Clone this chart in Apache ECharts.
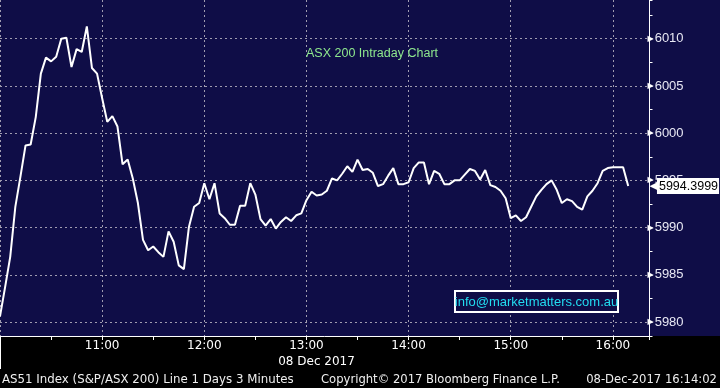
<!DOCTYPE html>
<html><head><meta charset="utf-8">
<script src="https://cdn.jsdelivr.net/npm/echarts@6/dist/echarts.min.js"></script>
<style>html,body{margin:0;padding:0;background:#000}#c{width:720px;height:388px}</style>
</head><body><div id="c"></div>
<script>
// 3-minute bars starting at 10:00
const startMinute = 600;
const stepMinutes = 3;
const prices = [
  5980.6, 5983.7, 5986.9, 5992.2, 5995.4, 5998.7, 5998.8, 6001.7, 6006.3, 6008.0,
  6007.6, 6008.1, 6010.0, 6010.1, 6007.0, 6008.9, 6008.6, 6011.3, 6006.9, 6006.3,
  6003.7, 6001.2, 6001.8, 6000.7, 5996.7, 5997.2, 5995.2, 5992.6, 5988.7, 5987.6,
  5988.0, 5987.4, 5986.9, 5989.6, 5988.5, 5986.0, 5985.6, 5990.1, 5992.2, 5992.6,
  5994.7, 5993.0, 5994.7, 5991.5, 5991.0, 5990.3, 5990.3, 5992.3, 5992.3, 5994.7,
  5993.5, 5990.9, 5990.2, 5990.9, 5989.9, 5990.6, 5991.1, 5990.7, 5991.3, 5991.5,
  5992.9, 5993.8, 5993.4, 5993.5, 5993.9, 5995.2, 5995.0, 5995.7, 5996.5, 5995.9,
  5997.2, 5996.1, 5996.2, 5995.8, 5994.4, 5994.6, 5995.5, 5996.3, 5994.6, 5994.6,
  5994.8, 5996.3, 5996.9, 5996.9, 5994.6, 5996.0, 5995.7, 5994.6, 5994.6, 5995.0,
  5995.0, 5995.6, 5996.2, 5996.0, 5995.1, 5996.1, 5994.5, 5994.3, 5993.9, 5993.1,
  5991.0, 5991.3, 5990.7, 5991.1, 5992.2, 5993.3, 5994.0, 5994.6, 5995.0, 5994.0,
  5992.6, 5993.0, 5992.8, 5992.2, 5991.9, 5993.3, 5993.9, 5994.7, 5996.0, 5996.3,
  5996.4, 5996.4, 5996.4, 5994.3999
];
const lastValue = 5994.3999;
const titleText = 'ASX 200 Intraday Chart';
const infoText = 'info@marketmatters.com.au';
const dateText = '08 Dec 2017';
const footerLeft = 'AS51 Index (S&P/ASX 200) Line 1 Days 3 Minutes';
const footerMid = 'Copyright\u00A9 2017 Bloomberg Finance L.P.';
const footerRight = '08-Dec-2017 16:14:02';

const NAVY = '#0f0d47';
const GRIDC = '#a09cb0';
function hhmm(v){const h=Math.floor(v/60), m=Math.round(v%60);return h+':'+(m<10?'0':'')+m;}

const chart = echarts.init(document.getElementById('c'), null, {renderer:'canvas'});
chart.setOption({
  animation:false,
  backgroundColor:'#000',
  grid:{left:0,right:70.5,top:0,bottom:52},
  xAxis:{
    type:'value', min:600, max:981.5, interval:60,
    axisLine:{show:true,lineStyle:{color:'#fff',width:1}},
    axisTick:{show:true,length:4,lineStyle:{color:'#fff'}},
    minorTick:{show:true,splitNumber:2,length:4,lineStyle:{color:'#fff'}},
    axisLabel:{showMinLabel:false,showMaxLabel:false,margin:4,color:'#fff',
      fontFamily:'DejaVu Sans',fontSize:12,formatter:hhmm},
    splitLine:{show:true,showMaxLine:false,lineStyle:{color:GRIDC,type:[2,3],width:1}}
  },
  yAxis:{
    type:'value', position:'right', min:5978.52, max:6014.1, splitNumber:7,
    minInterval:5, maxInterval:5,
    axisLine:{show:true,lineStyle:{color:'#fff',width:1}},
    axisTick:{show:true,length:3,lineStyle:{color:'#fff'}},
    minorTick:{show:true,splitNumber:2,length:3,lineStyle:{color:'#fff'}},
    axisLabel:{showMinLabel:false,showMaxLabel:false,margin:-2,
      formatter:v=>'{a|\u25B6}{b|'+v+'}',
      rich:{a:{color:'#fff',fontSize:8,fontFamily:'DejaVu Sans',padding:[0,1,0,0]},
            b:{color:'#e8e8f4',fontSize:13,fontFamily:'Liberation Sans'}}},
    splitLine:{show:true,showMinLine:false,showMaxLine:false,lineStyle:{color:GRIDC,type:[2,3],width:1}}
  },
  series:[{
    type:'line',
    data:prices.map((v,i)=>[startMinute+i*stepMinutes,v]),
    showSymbol:false, symbol:'none',
    lineStyle:{color:'#fff',width:2},
    z:5,
    markLine:{
      silent:true, symbol:'none', animation:false,
      lineStyle:{color:'rgba(0,0,0,0)',width:0},
      data:[{yAxis:lastValue}],
      label:{show:true,position:'end',distance:0,
        formatter:()=>'{a|\u25C0}{b|'+lastValue.toFixed(4)+'}',
        rich:{a:{color:'#fff',fontSize:11,fontFamily:'DejaVu Sans',padding:[0,-1,0,0]},
              b:{backgroundColor:'#fff',color:'#000',fontSize:12.5,fontFamily:'Liberation Sans',padding:[2,1,1,2]}}}
    }
  }],
  graphic:[
    {type:'rect',z:-10,shape:{x:0,y:0,width:720,height:336},style:{fill:NAVY},silent:true},
    {type:'text',z:10,style:{x:306,y:54,text:titleText,fill:'#8ee88e',font:'12.5px "Liberation Sans"',textVerticalAlign:'middle'}},
    {type:'rect',z:10,shape:{x:455,y:291,width:163,height:21},style:{fill:NAVY,stroke:'#fff',lineWidth:2}},
    {type:'text',z:11,style:{x:536.5,y:302,text:infoText,fill:'#22dcf0',font:'13px "Liberation Sans"',textAlign:'center',textVerticalAlign:'middle'}},
    {type:'line',z:10,shape:{x1:0.5,y1:336,x2:0.5,y2:369},style:{stroke:'#fff',lineWidth:1}},
    {type:'text',z:10,style:{x:316.5,y:362,text:dateText,fill:'#fff',font:'12px "DejaVu Sans"',textAlign:'center',textVerticalAlign:'middle'}},
    {type:'text',z:10,style:{x:2,y:380,text:footerLeft,fill:'#eee',font:'11.8px "DejaVu Sans"',textVerticalAlign:'middle'}},
    {type:'text',z:10,style:{x:321,y:380,text:footerMid,fill:'#eee',font:'11.6px "DejaVu Sans"',textVerticalAlign:'middle'}},
    {type:'text',z:10,style:{x:717,y:380,text:footerRight,fill:'#eee',font:'11.6px "DejaVu Sans"',textAlign:'right',textVerticalAlign:'middle'}}
  ]
});
</script></body></html>
